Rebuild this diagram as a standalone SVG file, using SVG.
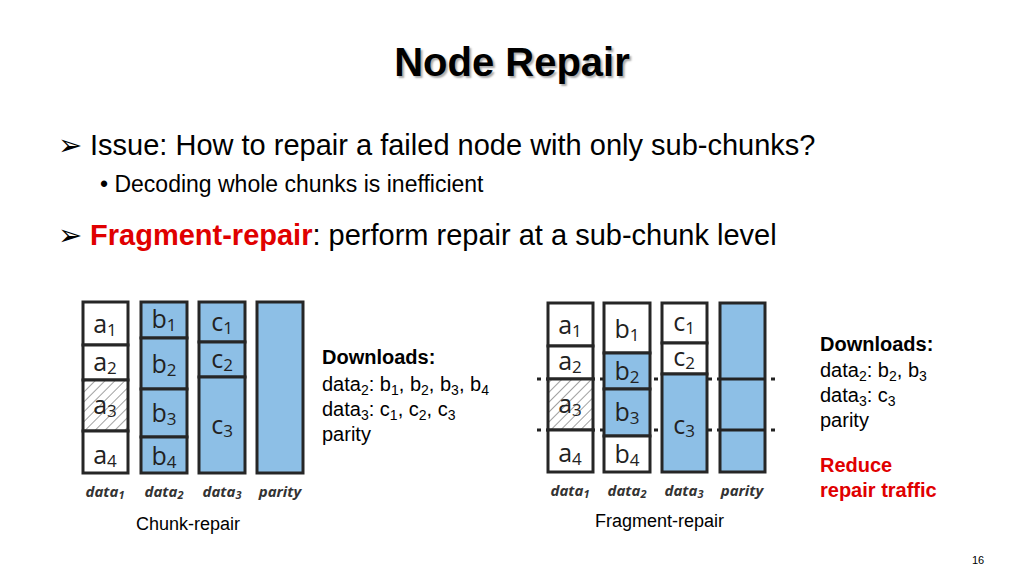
<svg xmlns="http://www.w3.org/2000/svg" width="1024" height="576" viewBox="0 0 1024 576">
<style>
.t{font-family:"Liberation Sans",Arial,sans-serif;fill:#000}
.c{stroke:#262626;stroke-width:3}
.w{fill:#fff}.b{fill:#8dbfe6}
.cl{font-family:"Open Sans","DejaVu Sans",sans-serif;font-size:25px;fill:#222;text-anchor:middle}
.lb{font-family:"Open Sans","DejaVu Sans",sans-serif;font-size:15px;font-weight:bold;font-style:italic;fill:#333;text-anchor:middle}
.d{stroke:#222;stroke-width:3;stroke-dasharray:4 5}
</style>
<defs>
<pattern id="h" width="7" height="7" patternUnits="userSpaceOnUse" patternTransform="rotate(45)">
<rect width="7" height="7" fill="#fff"/><line x1="0" y1="0" x2="0" y2="7" stroke="#444" stroke-width="1"/>
</pattern>
</defs>
<rect width="1024" height="576" fill="#fff"/>
<text class="t" x="512" y="76" font-size="40" font-weight="bold" text-anchor="middle" style="text-shadow:2px 2px 2px #aaa">Node Repair</text>
<text class="t" x="58" y="155" font-size="29">➢ Issue: How to repair a failed node with only sub-chunks?</text>
<text class="t" x="100" y="192" font-size="23">•  Decoding whole chunks is inefficient</text>
<text class="t" x="58" y="245" font-size="29">➢ <tspan fill="#e00000" font-weight="bold">Fragment-repair</tspan>: perform repair at a sub-chunk level</text>

<g id="left">
<rect class="c w" x="83" y="302" width="45" height="43"/><rect class="c w" x="83" y="345" width="45" height="35"/>
<rect class="c" fill="url(#h)" x="83" y="380" width="45" height="51"/><rect class="c w" x="83" y="431" width="45" height="42"/>
<rect class="c b" x="141" y="302" width="46" height="36"/><rect class="c b" x="141" y="338" width="46" height="51"/>
<rect class="c b" x="141" y="389" width="46" height="48"/><rect class="c b" x="141" y="437" width="46" height="36"/>
<rect class="c b" x="199" y="302" width="46" height="40"/><rect class="c b" x="199" y="342" width="46" height="35"/>
<rect class="c b" x="199" y="377" width="46" height="96"/>
<rect class="c b" x="257" y="302" width="46" height="171"/>
<text class="cl" x="105" y="333">a<tspan font-size="17" dy="3">1</tspan></text>
<text class="cl" x="105" y="371">a<tspan font-size="17" dy="3">2</tspan></text>
<text class="cl" x="105" y="414">a<tspan font-size="17" dy="3">3</tspan></text>
<text class="cl" x="105" y="464">a<tspan font-size="17" dy="3">4</tspan></text>
<text class="cl" x="164" y="328">b<tspan font-size="17" dy="3">1</tspan></text>
<text class="cl" x="164" y="373">b<tspan font-size="17" dy="3">2</tspan></text>
<text class="cl" x="164" y="422">b<tspan font-size="17" dy="3">3</tspan></text>
<text class="cl" x="164" y="465">b<tspan font-size="17" dy="3">4</tspan></text>
<text class="cl" x="222" y="331">c<tspan font-size="17" dy="3">1</tspan></text>
<text class="cl" x="222" y="368">c<tspan font-size="17" dy="3">2</tspan></text>
<text class="cl" x="222" y="434">c<tspan font-size="17" dy="3">3</tspan></text>
<text class="lb" x="105" y="497">data<tspan font-size="11" dy="2">1</tspan></text>
<text class="lb" x="164" y="497">data<tspan font-size="11" dy="2">2</tspan></text>
<text class="lb" x="222" y="497">data<tspan font-size="11" dy="2">3</tspan></text>
<text class="lb" x="280" y="497">parity</text>
</g>
<g id="left-text" class="t" font-size="20">
<text x="322" y="364" font-weight="bold">Downloads:</text>
<text x="322" y="391">data<tspan font-size="14" dy="4">2</tspan><tspan dy="-4">: b</tspan><tspan font-size="14" dy="4">1</tspan><tspan dy="-4">, b</tspan><tspan font-size="14" dy="4">2</tspan><tspan dy="-4">, b</tspan><tspan font-size="14" dy="4">3</tspan><tspan dy="-4">, b</tspan><tspan font-size="14" dy="4">4</tspan></text>
<text x="322" y="416">data<tspan font-size="14" dy="4">3</tspan><tspan dy="-4">: c</tspan><tspan font-size="14" dy="4">1</tspan><tspan dy="-4">, c</tspan><tspan font-size="14" dy="4">2</tspan><tspan dy="-4">, c</tspan><tspan font-size="14" dy="4">3</tspan></text>
<text x="322" y="441">parity</text>
<text x="136" y="530" font-size="18">Chunk-repair</text>
</g>

<g id="connectors">
<line class="d" x1="537" y1="379" x2="775" y2="379"/>
<line class="d" x1="537" y1="430" x2="775" y2="430"/>
</g>
<g id="right">
<rect class="c w" x="548" y="303" width="45" height="43"/><rect class="c w" x="548" y="346" width="45" height="33"/>
<rect class="c" fill="url(#h)" x="548" y="379" width="45" height="51"/><rect class="c w" x="548" y="430" width="45" height="42"/>
<rect class="c w" x="604" y="303" width="46" height="50"/><rect class="c b" x="604" y="353" width="46" height="36"/>
<rect class="c b" x="604" y="389" width="46" height="47"/><rect class="c w" x="604" y="436" width="46" height="36"/>
<rect class="c w" x="662" y="303" width="45" height="40"/><rect class="c w" x="662" y="343" width="45" height="31"/>
<rect class="c b" x="662" y="374" width="45" height="98"/>
<rect class="c b" x="720" y="303" width="45" height="169"/>
<line stroke="#222" stroke-width="3" x1="720" y1="379" x2="765" y2="379"/>
<line stroke="#222" stroke-width="3" x1="720" y1="430" x2="765" y2="430"/>
<text class="cl" x="570" y="334">a<tspan font-size="17" dy="3">1</tspan></text>
<text class="cl" x="570" y="370">a<tspan font-size="17" dy="3">2</tspan></text>
<text class="cl" x="570" y="413">a<tspan font-size="17" dy="3">3</tspan></text>
<text class="cl" x="570" y="462">a<tspan font-size="17" dy="3">4</tspan></text>
<text class="cl" x="627" y="338">b<tspan font-size="17" dy="3">1</tspan></text>
<text class="cl" x="627" y="380">b<tspan font-size="17" dy="3">2</tspan></text>
<text class="cl" x="627" y="421">b<tspan font-size="17" dy="3">3</tspan></text>
<text class="cl" x="627" y="463">b<tspan font-size="17" dy="3">4</tspan></text>
<text class="cl" x="684" y="331">c<tspan font-size="17" dy="3">1</tspan></text>
<text class="cl" x="684" y="366">c<tspan font-size="17" dy="3">2</tspan></text>
<text class="cl" x="684" y="434">c<tspan font-size="17" dy="3">3</tspan></text>
<text class="lb" x="570" y="496">data<tspan font-size="11" dy="2">1</tspan></text>
<text class="lb" x="627" y="496">data<tspan font-size="11" dy="2">2</tspan></text>
<text class="lb" x="684" y="496">data<tspan font-size="11" dy="2">3</tspan></text>
<text class="lb" x="742" y="496">parity</text>
</g>
<g id="right-text" class="t" font-size="20">
<text x="820" y="351" font-weight="bold">Downloads:</text>
<text x="820" y="377">data<tspan font-size="14" dy="4">2</tspan><tspan dy="-4">: b</tspan><tspan font-size="14" dy="4">2</tspan><tspan dy="-4">, b</tspan><tspan font-size="14" dy="4">3</tspan></text>
<text x="820" y="402">data<tspan font-size="14" dy="4">3</tspan><tspan dy="-4">: c</tspan><tspan font-size="14" dy="4">3</tspan></text>
<text x="820" y="427">parity</text>
<text x="820" y="472" font-weight="bold" fill="#e00000">Reduce</text>
<text x="820" y="497" font-weight="bold" fill="#e00000">repair traffic</text>
<text x="595" y="527" font-size="18">Fragment-repair</text>
<text x="978" y="564" font-size="11" text-anchor="middle">16</text>
</g>
</svg>
